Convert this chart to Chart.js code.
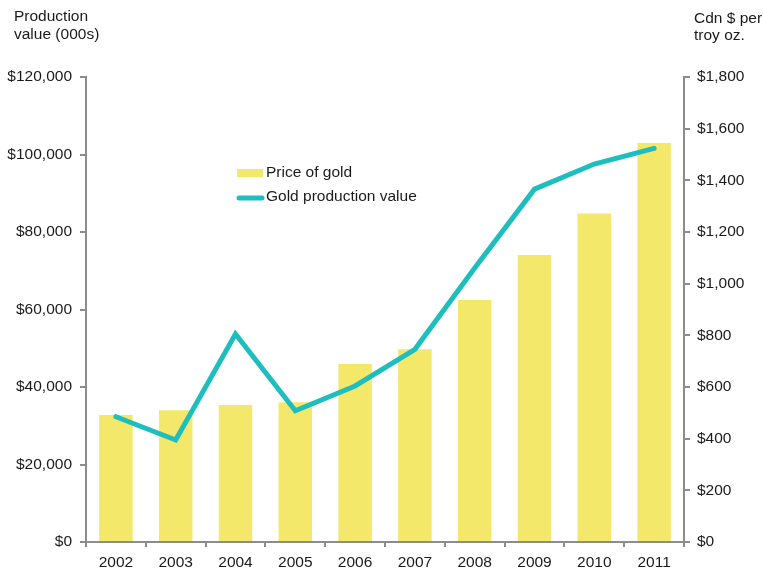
<!DOCTYPE html>
<html>
<head>
<meta charset="utf-8">
<script src="https://cdn.jsdelivr.net/npm/chart.js@4"></script>
<style>
  html, body { margin: 0; padding: 0; background: #fff; }
  #wrap { width: 763px; height: 571px; }
</style>
</head>
<body>
<div id="wrap"><canvas id="goldChart" width="763" height="571"></canvas></div>
<script>
Chart.defaults.font.size = 15.5;
Chart.defaults.font.family = "'Liberation Sans', Arial, sans-serif";
Chart.defaults.color = '#1a1a1a';

var years = ['2002', '2003', '2004', '2005', '2006', '2007', '2008', '2009', '2010', '2011'];
var barValues = [32800, 34000, 35350, 36050, 45930, 49750, 62450, 74050, 84800, 103000];
var lineValues = [485, 395, 805, 508, 604, 746, 1061, 1366, 1463, 1524];
var leftTitle = ['Production', 'value (000s)'];
var rightTitle = ['Cdn $ per', 'troy oz.'];

var axisGrey = '#8c8c8c';

function money(v) {
  return '$' + Number(v).toLocaleString('en-US');
}

// axis titles and the legend inside the plot
var extras = {
  id: 'extras',
  afterDraw: function(chart) {
    var c = chart.ctx;
    c.save();
    c.fillStyle = '#1a1a1a';
    c.font = "15.5px 'Liberation Sans', Arial, sans-serif";
    c.textAlign = 'left';
    c.textBaseline = 'alphabetic';
    c.fillText(leftTitle[0], 14, 21);
    c.fillText(leftTitle[1], 14, 39);
    c.fillText(rightTitle[0], 694, 23);
    c.fillText(rightTitle[1], 694, 40);

    var ds = chart.data.datasets;
    c.textBaseline = 'middle';
    // bar entry
    c.fillStyle = ds[0].backgroundColor;
    c.fillRect(237, 169, 26, 8);
    c.fillStyle = '#1a1a1a';
    c.fillText(ds[0].label, 266, 173);
    // line entry
    c.strokeStyle = ds[1].borderColor;
    c.lineWidth = 5;
    c.lineCap = 'round';
    c.beginPath();
    c.moveTo(239, 198);
    c.lineTo(262, 198);
    c.stroke();
    c.fillText(ds[1].label, 266, 197);
    c.restore();
  }
};

new Chart(document.getElementById('goldChart'), {
  type: 'bar',
  data: {
    labels: years,
    datasets: [{
      type: 'bar',
      label: 'Price of gold',
      data: barValues,
      yAxisID: 'y',
      backgroundColor: 'rgb(243, 232, 106)',
      categoryPercentage: 1,
      barPercentage: 0.56,
      order: 2
    }, {
      type: 'line',
      label: 'Gold production value',
      data: lineValues,
      yAxisID: 'y1',
      borderColor: 'rgb(31, 190, 190)',
      backgroundColor: 'rgb(31, 190, 190)',
      borderWidth: 5,
      pointRadius: 0,
      tension: 0,
      borderCapStyle: 'round',
      borderJoinStyle: 'miter',
      order: 1
    }]
  },
  options: {
    responsive: false,
    animation: false,
    layout: { padding: { top: 77, left: 0, right: 0, bottom: 0 } },
    plugins: {
      legend: { display: false },
      tooltip: { enabled: false }
    },
    scales: {
      x: {
        afterFit: function(s) { s.height = 29; },
        grid: {
          offset: true,
          drawOnChartArea: false,
          drawTicks: true,
          tickLength: 5,
          color: axisGrey,
          lineWidth: 2
        },
        border: { display: true, color: axisGrey, width: 2 },
        ticks: { padding: 6, maxRotation: 0 }
      },
      y: {
        position: 'left',
        min: 0,
        max: 120000,
        afterFit: function(s) { s.width = 86; },
        grid: {
          drawOnChartArea: false,
          drawTicks: true,
          tickLength: 6,
          color: axisGrey,
          lineWidth: 2
        },
        border: { display: true, color: axisGrey, width: 2 },
        ticks: { stepSize: 20000, padding: 8, callback: money }
      },
      y1: {
        position: 'right',
        min: 0,
        max: 1800,
        afterFit: function(s) { s.width = 79; },
        grid: {
          drawOnChartArea: false,
          drawTicks: true,
          tickLength: 6,
          color: axisGrey,
          lineWidth: 2
        },
        border: { display: true, color: axisGrey, width: 2 },
        ticks: { stepSize: 200, padding: 7, callback: money }
      }
    }
  },
  plugins: [extras]
});
</script>
</body>
</html>
